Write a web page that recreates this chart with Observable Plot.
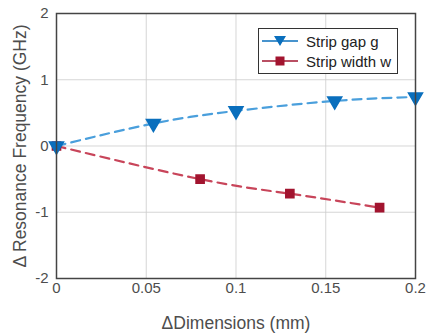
<!DOCTYPE html>
<html><head><meta charset="utf-8">
<script src="https://cdn.jsdelivr.net/npm/d3@7"></script>
<script src="https://cdn.jsdelivr.net/npm/@observablehq/plot@0.6"></script>
<style>
html,body{margin:0;padding:0;background:#fff;}
#wrap{position:relative;width:426px;height:335px;font-family:"Liberation Sans",Arial,sans-serif;}
#legend{position:absolute;left:258px;top:28px;width:138px;height:44px;border:1.5px solid #333;background:#fff;font-size:15px;color:#222;}
#legend .row{position:absolute;left:0;height:20px;display:flex;align-items:center;}
#legend svg{margin-left:3px;margin-right:8px;}
</style></head>
<body><div id="wrap"></div>
<script>
const gapX = [0, 0.054, 0.1, 0.155, 0.2];
const gapY = [0, 0.34, 0.53, 0.68, 0.74];
const widthX = [0, 0.08, 0.13, 0.18];
const widthY = [0, -0.5, -0.72, -0.93];
const xTicks = [0, 0.05, 0.1, 0.15, 0.2];
const xTickLabels = ["0", "0.05", "0.1", "0.15", "0.2"];
const yTicks = [-2, -1, 0, 1, 2];
const yTickLabels = ["-2", "-1", "0", "1", "2"];
const seriesNames = ["Strip gap g", "Strip width w"];
const xTitle = "ΔDimensions (mm)";
const yTitle = "Δ Resonance Frequency (GHz)";

const gap = gapX.map((x, i) => ({x, y: gapY[i]}));
const wid = widthX.map((x, i) => ({x, y: widthY[i]}));

const blueLine = "#4a9fdc", blueMark = "#0a6fbd";
const redLine = "#c8455a", redMark = "#a2142f";

const chart = Plot.plot({
  width: 426, height: 335,
  marginLeft: 56, marginRight: 11, marginTop: 13, marginBottom: 57,
  style: {fontFamily: "Liberation Sans, Arial, sans-serif", fontSize: "15px", color: "#4d4d4d", background: "#fff"},
  x: {domain: [0, 0.2]},
  y: {domain: [-2, 2]},
  marks: [
    Plot.gridX(xTicks, {stroke: "#ccc", strokeOpacity: 0.8}),
    Plot.gridY(yTicks, {stroke: "#ccc", strokeOpacity: 0.8}),
    Plot.axisX({ticks: xTicks, tickFormat: (d, i) => xTickLabels[i], tickSize: 0, tickPadding: 4,
      label: xTitle, labelAnchor: "center", labelArrow: "none", labelOffset: 50, fontSize: 15}),
    Plot.axisY({ticks: yTicks, tickFormat: (d, i) => yTickLabels[i], tickSize: 0, tickPadding: 8,
      label: yTitle, labelAnchor: "center", labelArrow: "none", labelOffset: 43, fontSize: 15}),
    Plot.line(gap, {x: "x", y: "y", curve: "natural", stroke: blueLine, strokeWidth: 2.2, strokeDasharray: "9,6"}),
    Plot.line(wid, {x: "x", y: "y", curve: "natural", stroke: redLine, strokeWidth: 2.2, strokeDasharray: "9,6"}),
    Plot.dot(wid, {x: "x", y: "y", symbol: "square", r: 4.6, fill: redMark, stroke: redMark}),
    Plot.dot(gap, {x: "x", y: "y", symbol: "triangle", rotate: 180, r: 5.2, fill: blueMark, stroke: blueMark}),
    Plot.frame({stroke: "#444", strokeWidth: 1.5})
  ]
});
chart.querySelectorAll("text").forEach(t => {
  t.setAttribute("fill", "#4d4d4d");
  if (t.textContent === xTitle || t.textContent === yTitle) {
    t.setAttribute("font-size", "17.5px");
    t.style.fontSize = "17.5px";
  }
});
const wrap = document.getElementById("wrap");
wrap.appendChild(chart);

const legend = document.createElement("div");
legend.id = "legend";
const specs = [
  {name: seriesNames[0], line: blueLine, mark: blueMark, sym: "tri"},
  {name: seriesNames[1], line: redLine, mark: redMark, sym: "sq"}
];
specs.forEach((s, i) => {
  const row = document.createElement("div");
  row.className = "row";
  row.style.top = (2 + i * 20) + "px";
  const m = s.sym === "tri"
    ? `<path d="M12,3 L24,3 L18,13 Z" fill="${s.mark}"/>`
    : `<rect x="13.5" y="3.5" width="9" height="9" fill="${s.mark}"/>`;
  row.innerHTML = `<svg width="36" height="16"><line x1="0" x2="36" y1="8" y2="8" stroke="${s.mark}" stroke-width="1.5"/>${m}</svg><span>${s.name}</span>`;
  legend.appendChild(row);
});
wrap.appendChild(legend);
</script></body></html>
